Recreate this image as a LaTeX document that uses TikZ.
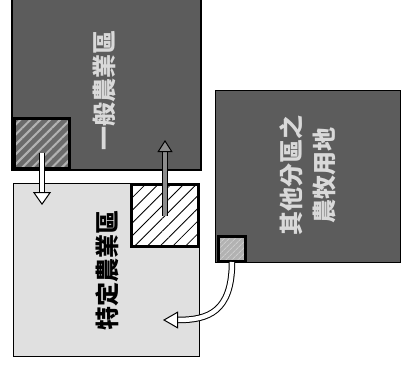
\documentclass[tikz,border=0pt]{standalone}
\usepackage{fontspec}
\newfontfamily\cjk{Noto Sans CJK TC}
\usepackage{tikz}
\usetikzlibrary{arrows.meta,patterns.meta}
\tikzstyle{zone}=[draw, line width=1.5pt, inner sep=0pt]
\tikzstyle{hatch}=[draw, line width=3pt, inner sep=0pt]
\tikzstyle{lbl}=[rotate=90, font=\cjk\bfseries\fontsize{24}{33}\selectfont, align=center, inner sep=0pt]
\tikzstyle{hollow}=[line width=1pt, double distance=4.5pt, -{Triangle[length=13pt, width=18pt, fill=white]}]

\begin{document}
\begin{tikzpicture}[x=1pt, y=-1pt]
\useasboundingbox (0,0) rectangle (402,368);
\node[zone, fill=black!64, minimum width=189pt, minimum height=182pt] (general) at (106.5,79) {};
\node[hatch, preaction={fill=black!58}, pattern={Lines[angle=45, distance=7pt, line width=2pt]}, pattern color=white!70!black, minimum width=55pt, minimum height=50pt] (hatchA) at (42,143.5) {};
\node[zone, fill=black!12, minimum width=186pt, minimum height=173pt] (specific) at (106.5,270) {};
\node[hatch, preaction={fill=white}, pattern={Lines[angle=45, distance=9pt, line width=0.8pt]}, pattern color=black, minimum width=67pt, minimum height=62pt] (hatchB) at (165,215.5) {};
\node[zone, fill=black!64, minimum width=185pt, minimum height=172pt] (other) at (308,176.5) {};
\node[hatch, preaction={fill=black!30}, pattern={Lines[angle=45, distance=4pt, line width=1pt]}, pattern color=white!80!black, minimum width=27pt, minimum height=25pt] (hatchC) at (232,249) {};
\node[lbl, text=black!15] (generaltext) at (104,90) {一般農業區};
\node[lbl] (specifictext) at (107,270) {特定農業區};
\node[lbl, text=black!15] (othertext) at (307.5,175) {其他分區之\\農牧用地};
\coordinate (downtip) at (42,205);
\coordinate (uptip) at (165,140);
\coordinate (curvetip) at (163,320);
\draw[hollow, double=white, shorten <=9pt] (hatchA.center) -- (downtip);
\draw[hollow, double=black!45, -{Triangle[length=12pt, width=15pt, fill=black!45]}] (hatchB.center) -- (uptip);
\draw[hollow, double=white, -{Triangle[length=15pt, width=17pt, fill=white]}] (hatchC.south) .. controls +(0,50) and +(45,0) .. (curvetip);
\end{tikzpicture}
\end{document}
